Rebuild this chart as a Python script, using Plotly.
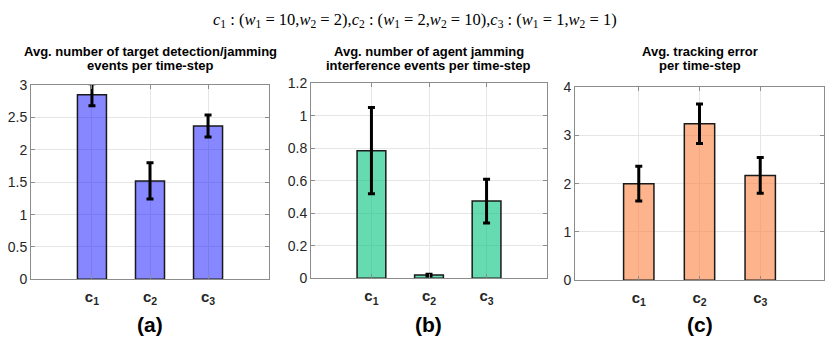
import plotly.graph_objects as go

# data
categories = [1, 2, 3]
cat_labels = ["<b>c<sub>1</sub></b>", "<b>c<sub>2</sub></b>", "<b>c<sub>3</sub></b>"]

jam_events = [2.85, 1.52, 2.37]
jam_events_err = [0.17, 0.28, 0.17]

interf_events = [0.785, 0.02, 0.475]
interf_events_err = [0.265, 0.005, 0.135]

track_err = [2.0, 3.24, 2.17]
track_err_err = [0.36, 0.41, 0.37]

panel_titles = [
    ("Avg. number of target detection/jamming", "events per time-step"),
    ("Avg. number of agent jamming", "interference events per time-step"),
    ("Avg. tracking error", "per time-step"),
]
panel_tags = ["(a)", "(b)", "(c)"]

W, H = 830, 342
SY = 342 / 334  # the page comes out slightly squashed vertically, undo it


def py(y):
    # pixel row measured on the reference -> paper y
    return 1 - y * SY / H


# pixel boxes of the three axes (left, right, top, bottom)
boxes = [(31, 269, 79, 278), (311, 547, 77, 277), (575, 824, 81, 279)]
colors = ["rgba(0,0,255,0.47)", "rgba(0,193,125,0.6)", "rgba(251,128,62,0.6)"]
series = [(jam_events, jam_events_err), (interf_events, interf_events_err),
          (track_err, track_err_err)]
yranges = [([0, 3], 0.5), ([0, 1.2], 0.2), ([0, 4], 1)]

fig = go.Figure()
layout = dict(
    width=W, height=H, margin=dict(l=0, r=0, t=0, b=0),
    plot_bgcolor="white", paper_bgcolor="white", showlegend=False,
    font=dict(family="Liberation Sans, Arial, sans-serif", color="#262626"),
)
annotations = []

for i, ((vals, errs), col, (yr, dt), (l, r, t, b)) in enumerate(zip(series, colors, yranges, boxes)):
    n = "" if i == 0 else str(i + 1)
    fig.add_trace(go.Bar(
        x=categories, y=vals, width=0.5,
        marker=dict(color=col, line=dict(color="#1a1a1a", width=1.5)),
        error_y=dict(type="data", array=errs, visible=True, color="black",
                     thickness=3, width=3.5),
        cliponaxis=False,
        xaxis="x" + n, yaxis="y" + n,
    ))
    axis_common = dict(
        showline=True, linecolor="#8c8c8c", linewidth=1, mirror="ticks",
        ticks="inside", ticklen=4, tickcolor="#8c8c8c",
        showgrid=True, gridcolor="#e6e6e6", gridwidth=1, zeroline=False,
    )
    layout["xaxis" + n] = dict(
        axis_common, domain=[l / W, r / W], range=[-0.05, 4.05],
        tickvals=categories, ticktext=cat_labels, anchor="y" + n,
        tickfont=dict(size=15, color="#262626"), ticklabelstandoff=4,
    )
    layout["yaxis" + n] = dict(
        axis_common, domain=[py(b), py(t)], range=yr, dtick=dt,
        anchor="x" + n, tickfont=dict(size=14, color="#262626"),
    )
    cx = (l + r) / 2 / W
    for line, ypix in zip(panel_titles[i], (45, 59)):
        annotations.append(dict(
            text="<b>" + line + "</b>", x=cx, y=py(ypix),
            xref="paper", yref="paper", showarrow=False,
            xanchor="center", yanchor="middle",
            font=dict(size=13, color="black"),
        ))
    annotations.append(dict(
        text="<b>" + panel_tags[i] + "</b>", x=cx, y=py(324),
        xref="paper", yref="paper", showarrow=False,
        xanchor="center", yanchor="middle",
        font=dict(size=21, color="black"),
    ))

annotations.append(dict(
    text="<i>c</i><sub>1</sub> : (<i>w</i><sub>1</sub> = 10,<i>w</i><sub>2</sub> = 2),"
         "<i>c</i><sub>2</sub> : (<i>w</i><sub>1</sub> = 2,<i>w</i><sub>2</sub> = 10),"
         "<i>c</i><sub>3</sub> : (<i>w</i><sub>1</sub> = 1,<i>w</i><sub>2</sub> = 1)",
    x=0.5, y=py(12), xref="paper", yref="paper", showarrow=False,
    xanchor="center", yanchor="middle",
    font=dict(size=16.5, family="Liberation Serif, Times New Roman, serif", color="black"),
))
layout["annotations"] = annotations
fig.update_layout(**layout)

page_fix = (
    "document.documentElement.style.margin='0';"
    "document.body.style.margin='0';"
    "document.documentElement.style.overflow='hidden';"
    "document.body.style.overflow='hidden';"
    "var gd=document.getElementById('{plot_id}');"
    "gd.style.position='absolute';gd.style.left='0px';gd.style.top='0px';"
)
fig.write_html("out.html", config={"displayModeBar": False}, post_script=page_fix)
